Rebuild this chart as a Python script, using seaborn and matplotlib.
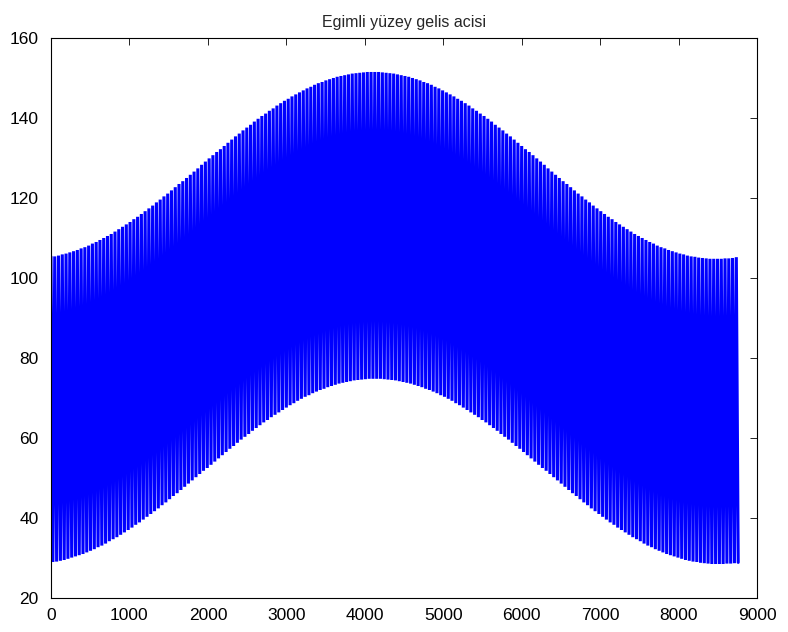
import numpy as np
import pandas as pd
import matplotlib
matplotlib.use("Agg")
import matplotlib.pyplot as plt
import seaborn as sns

# Daily extremes of the incidence angle (deg), sampled every 2 days (48 h)
# upper = night-time maximum, lower = noon minimum, read from the picture
upper_vals = [
    105.3, 105.4, 105.6, 105.9, 106.1, 106.4, 106.7, 107.0, 107.4, 107.7,
    108.1, 108.6, 109.0, 109.5, 110.0, 110.5, 111.0, 111.6, 112.2, 112.8,
    113.4, 114.0, 114.7, 115.3, 116.0, 116.7, 117.4, 118.1, 118.9, 119.6,
    120.4, 121.1, 121.9, 122.7, 123.5, 124.2, 125.0, 125.8, 126.6, 127.4,
    128.3, 129.1, 129.9, 130.7, 131.5, 132.2, 133.0, 133.8, 134.6, 135.4,
    136.1, 136.9, 137.6, 138.3, 139.1, 139.8, 140.5, 141.1, 141.8, 142.4,
    143.1, 143.7, 144.3, 144.8, 145.4, 145.9, 146.4, 146.9, 147.4, 147.8,
    148.3, 148.7, 149.0, 149.4, 149.7, 150.0, 150.3, 150.5, 150.7, 150.9,
    151.1, 151.2, 151.3, 151.4, 151.5, 151.5,
    151.5, 151.5, 151.4, 151.3, 151.2, 151.1, 150.9, 150.7, 150.5, 150.3,
    150.0, 149.7, 149.4, 149.0, 148.7, 148.3, 147.8, 147.4, 146.9, 146.4,
    145.9, 145.4, 144.8, 144.3, 143.7, 143.1, 142.4, 141.8, 141.1, 140.5,
    139.8, 139.1, 138.3, 137.6, 136.9, 136.1, 135.4, 134.6, 133.8, 133.0,
    132.2, 131.5, 130.7, 129.9, 129.1, 128.3, 127.4, 126.6, 125.8, 125.0,
    124.2, 123.5, 122.7, 121.9, 121.1, 120.4, 119.6, 118.9, 118.1, 117.4,
    116.7, 116.0, 115.3, 114.7, 114.0, 113.4, 112.8, 112.2, 111.6, 111.0,
    110.5, 110.0, 109.5, 109.0, 108.6, 108.1, 107.7, 107.4, 107.0, 106.7,
    106.4, 106.1, 105.9, 105.6, 105.4, 105.3, 105.1, 105.0, 104.9, 104.8,
    104.8, 104.8, 104.8, 104.9, 104.9, 105.0, 105.2,
]
lower_vals = [
    29.0, 29.1, 29.3, 29.5, 29.8, 30.1, 30.4, 30.7, 31.0, 31.4,
    31.8, 32.2, 32.7, 33.1, 33.6, 34.2, 34.7, 35.2, 35.8, 36.4,
    37.0, 37.6, 38.3, 38.9, 39.6, 40.3, 41.0, 41.7, 42.4, 43.2,
    43.9, 44.7, 45.5, 46.2, 47.0, 47.8, 48.6, 49.4, 50.2, 51.0,
    51.8, 52.5, 53.3, 54.1, 54.9, 55.7, 56.5, 57.3, 58.0, 58.8,
    59.6, 60.3, 61.0, 61.8, 62.5, 63.2, 63.9, 64.5, 65.2, 65.8,
    66.4, 67.0, 67.6, 68.2, 68.7, 69.3, 69.8, 70.3, 70.7, 71.2,
    71.6, 72.0, 72.3, 72.7, 73.0, 73.3, 73.6, 73.8, 74.0, 74.2,
    74.4, 74.5, 74.6, 74.7, 74.8, 74.8,
    74.8, 74.8, 74.7, 74.6, 74.5, 74.4, 74.2, 74.0, 73.8, 73.6,
    73.3, 73.0, 72.7, 72.3, 72.0, 71.6, 71.2, 70.7, 70.3, 69.8,
    69.3, 68.7, 68.2, 67.6, 67.0, 66.4, 65.8, 65.2, 64.5, 63.9,
    63.2, 62.5, 61.8, 61.0, 60.3, 59.6, 58.8, 58.0, 57.3, 56.5,
    55.7, 54.9, 54.1, 53.3, 52.5, 51.8, 51.0, 50.2, 49.4, 48.6,
    47.8, 47.0, 46.2, 45.5, 44.7, 43.9, 43.2, 42.4, 41.7, 41.0,
    40.3, 39.6, 38.9, 38.3, 37.6, 37.0, 36.4, 35.8, 35.2, 34.7,
    34.2, 33.6, 33.1, 32.7, 32.2, 31.8, 31.4, 31.0, 30.7, 30.4,
    30.1, 29.8, 29.5, 29.3, 29.1, 29.0, 28.8, 28.7, 28.6, 28.5,
    28.5, 28.5, 28.5, 28.6, 28.6, 28.7, 28.9,
]
x_ticks = [0, 1000, 2000, 3000, 4000, 5000, 6000, 7000, 8000, 9000]
y_ticks = [20, 40, 60, 80, 100, 120, 140, 160]
title_text = "Egimli yüzey gelis acisi"

# hour index of each sample: maxima at 0, 48, 96 ... , minima 24 h later
n = len(upper_vals)
peak_hours = np.arange(n) * 48
trough_hours = peak_hours + 24
hours = np.empty(2 * n)
angles = np.empty(2 * n)
hours[0::2] = peak_hours
hours[1::2] = trough_hours
angles[0::2] = upper_vals
angles[1::2] = lower_vals
df = pd.DataFrame({"saat": hours, "aci": angles})

sns.set_style("white")
plt.rcParams["font.family"] = ["Liberation Sans", "DejaVu Sans"]

fig = plt.figure(figsize=(7.88, 6.32), dpi=100)
ax = fig.add_axes([0.0647, 0.0538, 0.8960, 0.8861])
sns.lineplot(data=df, x="saat", y="aci", ax=ax, color="#0000ff",
             linewidth=2.2, estimator=None, sort=False)
for ln in ax.get_lines():
    ln.set_solid_joinstyle("bevel")

ax.set_xlim(0, 9000)
ax.set_ylim(20, 160)
ax.set_xticks(x_ticks)
ax.set_yticks(y_ticks)
ax.set_xlabel("")
ax.set_ylabel("")
ax.set_title(title_text, fontsize=11.5, pad=8)
ax.tick_params(direction="in", length=5, width=0.6, labelsize=12.5,
               top=True, right=True, labeltop=False, labelright=False,
               colors="black")
ax.tick_params(axis="y", pad=9)
ax.tick_params(axis="x", pad=7)
for s in ax.spines.values():
    s.set_visible(True)
    s.set_color("black")
    s.set_linewidth(0.8)
ax.set_facecolor("white")
fig.patch.set_facecolor("white")

fig.savefig("out.png", dpi=100, facecolor="white")
